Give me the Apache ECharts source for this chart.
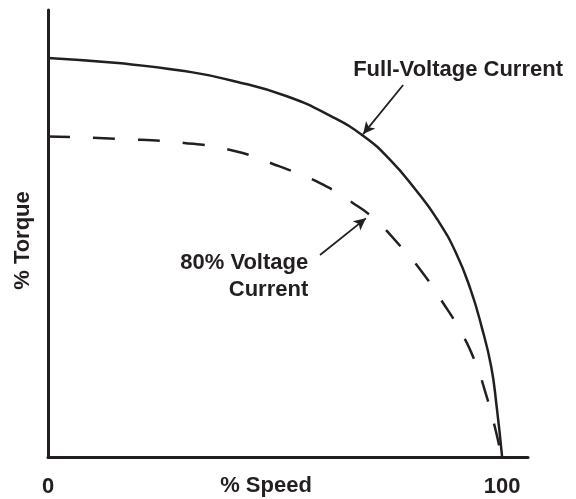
<!DOCTYPE html>
<html>
<head>
<meta charset="utf-8">
<script src="https://cdn.jsdelivr.net/npm/echarts@6/dist/echarts.min.js"></script>
<style>
  html, body { margin: 0; padding: 0; background: #fff; }
  #chart { width: 576px; height: 499px; }
</style>
</head>
<body>
<div id="chart"></div>
<script>
// % speed / % torque
const fullSpeed = [0, 15.4, 30.0, 41.3, 52.6, 62.3, 69.6, 75.3, 81.0, 85.8, 89.9, 93.1, 95.5, 97.6, 98.8, 100];
const fullTorque = [100, 98.7, 96.7, 94.1, 90.4, 85.4, 80.3, 74.5, 66.9, 59.4, 51.0, 41.8, 32.6, 22.6, 12.6, 0];
const lowSpeed = [0, 15.4, 30.0, 41.3, 51.0, 59.9, 67.2, 72.1, 77.7, 82.6, 86.6, 90.7, 93.9, 96.4, 98.4, 99.9];
const lowTorque = [80.3, 79.7, 78.7, 76.6, 72.8, 68.6, 63.6, 59.4, 52.7, 46.0, 39.3, 31.8, 24.3, 15.9, 7.5, 0];
const tickValues = [0, 100];
const tickLabels = ["0", "100"];

const ink = "#231f20";
const font = "Liberation Sans";

const toPairs = (xs, ys) => xs.map((x, i) => [x, ys[i]]);

const chart = echarts.init(document.getElementById("chart"));
chart.setOption({
  animation: false,
  grid: { left: 48, right: 48, top: 10, bottom: 42, outerBoundsMode: "none", containLabel: false },
  xAxis: {
    type: "value",
    min: 0,
    max: 105.7,
    name: "% Speed",
    nameLocation: "middle",
    nameGap: 18,
    nameMoveOverlap: false,
    nameTextStyle: { color: ink, fontFamily: font, fontWeight: "bold", fontSize: 22, padding: [0, 44, 0, 0] },
    axisLine: { lineStyle: { color: ink, width: 3 } },
    axisTick: { show: false },
    splitLine: { show: false },
    axisLabel: {
      customValues: tickValues,
      formatter: (v) => tickLabels[tickValues.indexOf(v)],
      margin: 19,
      color: ink,
      fontFamily: font,
      fontWeight: "bold",
      fontSize: 22,
    },
  },
  yAxis: {
    type: "value",
    min: 0,
    max: 112,
    name: "% Torque",
    nameLocation: "middle",
    nameRotate: 90,
    nameGap: 14,
    nameMoveOverlap: false,
    nameTextStyle: { color: ink, fontFamily: font, fontWeight: "bold", fontSize: 22, padding: [0, 14, 0, 0] },
    axisLine: { show: true, lineStyle: { color: ink, width: 3 } },
    axisTick: { show: false },
    splitLine: { show: false },
    axisLabel: { show: false },
  },
  series: [
    {
      name: "Full-Voltage Current",
      type: "line",
      data: toPairs(fullSpeed, fullTorque),
      smooth: 0.5,
      symbol: "none",
      lineStyle: { color: ink, width: 2.5 },
      markLine: {
        silent: true,
        symbol: ["none", "arrow"],
        symbolSize: [9, 12],
        label: { show: false },
        lineStyle: { color: ink, width: 1.8, type: "solid" },
        data: [
          [{ coord: [78.2, 93.2] }, { coord: [69.4, 80.9] }],
          [{ coord: [59.9, 50.6] }, { coord: [70.0, 59.8] }],
        ],
      },
    },
    {
      name: "80% Voltage Current",
      type: "line",
      data: toPairs(lowSpeed, lowTorque),
      smooth: 0.5,
      symbol: "none",
      lineStyle: { color: ink, width: 2.5, type: [22, 23] },
    },
  ],
});

const p1 = chart.convertToPixel({ gridIndex: 0 }, [90.3, 97.0]);
const p2 = chart.convertToPixel({ gridIndex: 0 }, [57.3, 45.2]);
chart.setOption({
  graphic: [
    {
      type: "text",
      x: p1[0],
      y: p1[1],
      style: {
        text: "Full-Voltage Current",
        fill: ink,
        font: "bold 22px " + font,
        textAlign: "center",
        textVerticalAlign: "middle",
      },
    },
    {
      type: "text",
      x: p2[0],
      y: p2[1],
      style: {
        text: "80% Voltage\nCurrent",
        fill: ink,
        font: "bold 22px " + font,
        lineHeight: 27,
        textAlign: "right",
        textVerticalAlign: "middle",
      },
    },
  ],
});
</script>
</body>
</html>
